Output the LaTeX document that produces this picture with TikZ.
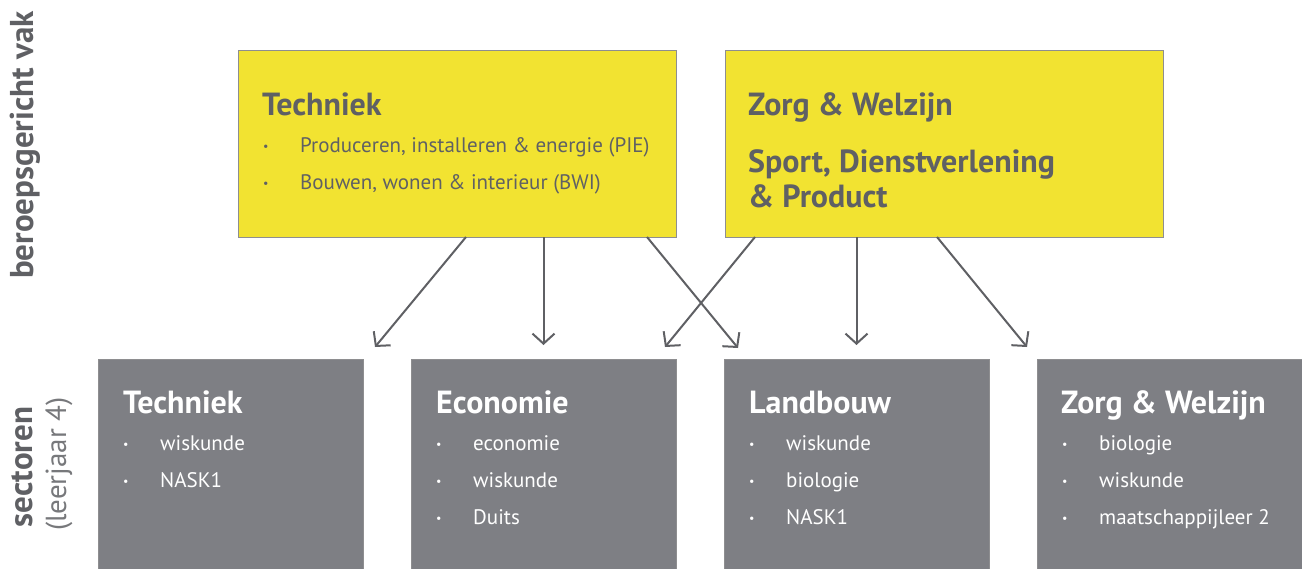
\documentclass[tikz,border=0pt]{standalone}
\usepackage{fontspec}
\setmainfont{PT Sans}
\usetikzlibrary{arrows.meta,positioning}
\definecolor{geel}{HTML}{F2E331}
\definecolor{grijs}{HTML}{7E7F84}
\definecolor{donker}{HTML}{5F6064}
\definecolor{rand}{HTML}{8E8E90}
\newcommand{\punt}{\makebox[37pt][l]{\raisebox{2pt}{\fontsize{12}{12}\selectfont\textbullet}}}

\begin{document}
\begin{tikzpicture}[x = 1pt, y = -1pt,
	vak/.style = {draw = rand, line width = 1pt, fill = geel, minimum width = 438pt, minimum height = 187pt, inner sep = 0pt, outer sep = 0pt},
	sector/.style = {draw = rand, line width = 1pt, fill = grijs, minimum width = 265pt, minimum height = 210pt, inner sep = 0pt, outer sep = 0pt},
	kop/.style = {anchor = base west, inner sep = 0pt, align = left, font = \fontsize{32}{35}\selectfont\bfseries},
	lijst/.style = {anchor = base west, inner sep = 0pt, align = left, font = \fontsize{21}{37}\selectfont},
	zij/.style = {rotate = 90, anchor = base, inner sep = 0pt, text = donker, font = \fontsize{33}{36}\selectfont\bfseries},
	pijl/.style = {draw = donker, line width = 2pt, -{Straight Barb[length = 10pt, width = 22pt]}}]
	\useasboundingbox (0,0) rectangle (1302,568);%vaste rand
	\node[vak, anchor = north west] (tT) at (238,50) {};
	\node[vak, right = 49pt of tT] (tZ) {};
	\node[sector, anchor = north west] (sT) at (98,359) {};
	\node[sector, right = 48pt of sT] (sE) {};
	\node[sector, right = 48pt of sE] (sL) {};
	\node[sector, right = 48pt of sL] (sZ) {};
	\node[zij] (lBer) at (33,145) {beroepsgericht vak};
	\node[zij] (lSec) at (32,467) {sectoren};
	\node[zij, text = donker!85, font = \fontsize{29}{30}\selectfont] (lLeer) at (66,464) {(leerjaar 4)};
	% bovenste vakken (anker = basislijn van de laatste regel)
	\node[kop, text = donker] (tTkop) at ([shift = {(24pt,-65pt)}]tT.north west) {Techniek};
	\node[lijst, text = donker] (tTlijst) at ([shift = {(25pt,-139pt)}]tT.north west) {\punt Produceren, installeren \& energie (PIE)\\ \punt Bouwen, wonen \& interieur (BWI)};
	\node[kop, text = donker] (tZkop) at ([shift = {(23pt,-65pt)}]tZ.north west) {Zorg \& Welzijn};
	\node[kop, text = donker] (tZkop2) at ([shift = {(23pt,-157pt)}]tZ.north west) {Sport, Dienstverlening\\\& Product};
	% sectoren
	\node[kop, text = white] (sTkop) at ([shift = {(25pt,-54pt)}]sT.north west) {Techniek};
	\node[lijst, text = white] (sTlijst) at ([shift = {(25pt,-128pt)}]sT.north west) {\punt wiskunde\\ \punt NASK1};
	\node[kop, text = white] (sEkop) at ([shift = {(25pt,-54pt)}]sE.north west) {Economie};
	\node[lijst, text = white] (sElijst) at ([shift = {(25pt,-165pt)}]sE.north west) {\punt economie\\ \punt wiskunde\\ \punt Duits};
	\node[kop, text = white] (sLkop) at ([shift = {(25pt,-54pt)}]sL.north west) {Landbouw};
	\node[lijst, text = white] (sLlijst) at ([shift = {(25pt,-165pt)}]sL.north west) {\punt wiskunde\\ \punt biologie\\ \punt NASK1};
	\node[kop, text = white] (sZkop) at ([shift = {(24pt,-54pt)}]sZ.north west) {Zorg \& Welzijn};
	\node[lijst, text = white] (sZlijst) at ([shift = {(25pt,-165pt)}]sZ.north west) {\punt biologie\\ \punt wiskunde\\ \punt maatschappijleer 2};
	% pijlen
	\draw[pijl] ([xshift = 9pt]tT.south) -- ([shift = {(12pt,12pt)}]sT.north east);
	\draw[pijl] (sE.north |- tT.south) -- ([yshift = 14pt]sE.north);
	\draw[pijl] ([xshift = 190pt]tT.south) -- ([shift = {(14pt,11pt)}]sL.north west);
	\draw[pijl] ([xshift = 30pt]tZ.south west) -- ([shift = {(-11pt,12pt)}]sE.north east);
	\draw[pijl] (sL.north |- tZ.south) -- ([yshift = 14pt]sL.north);
	\draw[pijl] ([xshift = -7pt]tZ.south) -- ([shift = {(-10pt,12pt)}]sZ.north west);
\end{tikzpicture}
\end{document}
